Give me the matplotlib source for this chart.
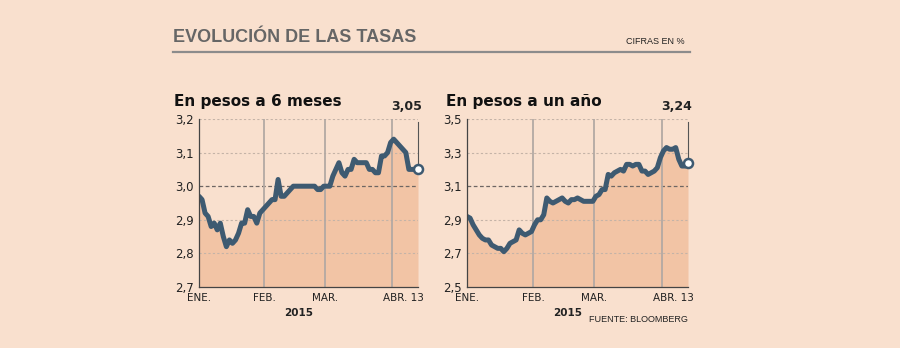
import numpy as np
import pandas as pd
import matplotlib
matplotlib.use('Agg')
import matplotlib.pyplot as plt

# business days covered by both series
dates = pd.bdate_range('2015-01-01', '2015-04-13')

# tasa en pesos a 6 meses (%)
tasa_6m = [2.97, 2.96, 2.92, 2.91, 2.88, 2.89, 2.87, 2.89, 2.85, 2.82,
           2.84, 2.83, 2.84, 2.86, 2.89, 2.89, 2.93, 2.91, 2.91, 2.89,
           2.92, 2.93, 2.94, 2.95, 2.96, 2.96, 3.02, 2.97, 2.97, 2.98,
           2.99, 3.00, 3.00, 3.00, 3.00, 3.00, 3.00, 3.00, 3.00, 2.99,
           2.99, 3.00, 3.00, 3.00, 3.03, 3.05, 3.07, 3.04, 3.03, 3.05,
           3.05, 3.08, 3.07, 3.07, 3.07, 3.07, 3.05, 3.05, 3.04, 3.04,
           3.09, 3.09, 3.10, 3.13, 3.14, 3.13, 3.12, 3.11, 3.10, 3.05,
           3.05, 3.05, 3.05]

# tasa en pesos a un año (%)
tasa_1a = [2.92, 2.91, 2.87, 2.84, 2.81, 2.79, 2.78, 2.78, 2.75, 2.74,
           2.73, 2.73, 2.71, 2.73, 2.76, 2.77, 2.78, 2.84, 2.82, 2.81,
           2.82, 2.83, 2.87, 2.90, 2.90, 2.93, 3.03, 3.01, 3.00, 3.01,
           3.02, 3.03, 3.01, 3.00, 3.02, 3.02, 3.03, 3.02, 3.01, 3.01,
           3.01, 3.01, 3.04, 3.05, 3.08, 3.08, 3.17, 3.16, 3.18, 3.19,
           3.20, 3.19, 3.23, 3.23, 3.22, 3.23, 3.23, 3.19, 3.19, 3.17,
           3.18, 3.19, 3.21, 3.27, 3.31, 3.33, 3.32, 3.32, 3.33, 3.26,
           3.22, 3.22, 3.24]

yticks_6m = [2.7, 2.8, 2.9, 3.0, 3.1, 3.2]
yticks_1a = [2.5, 2.7, 2.9, 3.1, 3.3, 3.5]
month_labels = ['ENE.', 'FEB.', 'MAR.', 'ABR. 13']

BG = '#F9E0CE'
FILL = '#F2C4A5'
LINE = '#3E5A71'
GRID = '#C4B3A7'
MONTH = '#B3A9A3'
DARK = '#222222'

W, H = 900, 348
fig = plt.figure(figsize=(W / 100, H / 100), dpi=100)
fig.patch.set_facecolor(BG)


def fx(x):
    return x / W


def fy(y):
    return 1 - y / H


def comma(v, fmt='{:.1f}'):
    return fmt.format(v).replace('.', ',')


def panel(rect, values, yticks, ref_level):
    ax = fig.add_axes(rect)
    ax.set_facecolor(BG)
    x = np.arange(len(values))
    lo, hi = yticks[0], yticks[-1]
    ax.set_xlim(0, len(values) - 1)
    ax.set_ylim(lo, hi)

    ax.fill_between(x, lo, values, color=FILL, lw=0, zorder=1)
    for t in yticks[1:]:
        if t != ref_level:
            ax.axhline(t, color=GRID, lw=0.8, ls=(0, (2, 2)), zorder=2)
    ax.axhline(ref_level, color='#6E6663', lw=0.9, ls=(0, (3, 2)), zorder=2)

    # month boundaries
    starts = [i for i in range(1, len(dates)) if dates[i].month != dates[i - 1].month]
    for i in starts:
        ax.axvline(i - 0.5, color=MONTH, lw=1.3, zorder=2)

    ax.plot(x, values, color=LINE, lw=3.6, solid_joinstyle='round',
            solid_capstyle='round', zorder=3)

    # last value call-out
    last = values[-1]
    ax.plot([x[-1], x[-1]], [last, hi - (hi - lo) * 0.02], color='#555555',
            lw=0.8, zorder=4, clip_on=False)
    ax.plot(x[-1], last, 'o', ms=6.5, mfc='white', mec=LINE, mew=1.8,
            zorder=5, clip_on=False)
    ax.annotate(comma(last, '{:.2f}'), xy=(x[-1], 1), xycoords=('data', 'axes fraction'),
                xytext=(3, 4), textcoords='offset points', ha='right', va='bottom',
                fontsize=9, fontweight='bold', color=DARK)

    ax.set_yticks(yticks)
    ax.set_yticklabels([comma(t) for t in yticks])
    ax.tick_params(axis='y', length=0, pad=4, labelsize=8.5, labelcolor=DARK)
    ax.set_xticks([])
    for s in ['top', 'right']:
        ax.spines[s].set_visible(False)
    for s in ['left', 'bottom']:
        ax.spines[s].set_color('#444444')
        ax.spines[s].set_linewidth(0.9)
        ax.spines[s].set_zorder(4)

    # month labels under the axis
    tick_pos = [0] + [i - 0.5 for i in starts]
    for pos, lab in zip(tick_pos[:-1], month_labels[:-1]):
        ax.annotate(lab, xy=(pos, 0), xycoords=('data', 'axes fraction'),
                    xytext=(0, -4), textcoords='offset points', ha='center', va='top',
                    fontsize=7.5, color=DARK)
    ax.annotate(month_labels[-1], xy=(x[-1], 0), xycoords=('data', 'axes fraction'),
                xytext=(4, -4), textcoords='offset points', ha='right', va='top',
                fontsize=7.5, color=DARK)
    ax.text(0.455, -0.125, '2015', transform=ax.transAxes, ha='center', va='top',
            fontsize=7.5, fontweight='bold', color=DARK)
    return ax


ax1 = panel([fx(199), fy(287), fx(418) - fx(199), fy(119) - fy(287)],
            tasa_6m, yticks_6m, 3.0)
ax2 = panel([fx(467), fy(287), fx(688) - fx(467), fy(119) - fy(287)],
            tasa_1a, yticks_1a, 3.1)

# header
fig.text(fx(173), fy(38), 'EVOLUCIÓN DE LAS TASAS', ha='left', va='center',
         fontsize=13, fontweight='bold', color='#666666',
         family=['Liberation Sans', 'DejaVu Sans'])
fig.text(fx(685), fy(41), 'CIFRAS EN %', ha='right', va='center',
         fontsize=6.5, color=DARK, family=['Liberation Sans', 'DejaVu Sans'])
fig.add_artist(plt.Line2D([fx(173), fx(690)], [fy(52), fy(52)], color='#8C8C8C', lw=1.6))

fig.text(fx(174), fy(106), 'En pesos a 6 meses', ha='left', va='baseline',
         fontsize=11, fontweight='bold', color='#111111')
fig.text(fx(446), fy(106), 'En pesos a un año', ha='left', va='baseline',
         fontsize=11, fontweight='bold', color='#111111')

fig.text(fx(688), fy(320), 'FUENTE: BLOOMBERG', ha='right', va='center',
         fontsize=6.5, color=DARK, family=['Liberation Sans', 'DejaVu Sans'])

fig.savefig('out.png', dpi=100, facecolor=BG)
